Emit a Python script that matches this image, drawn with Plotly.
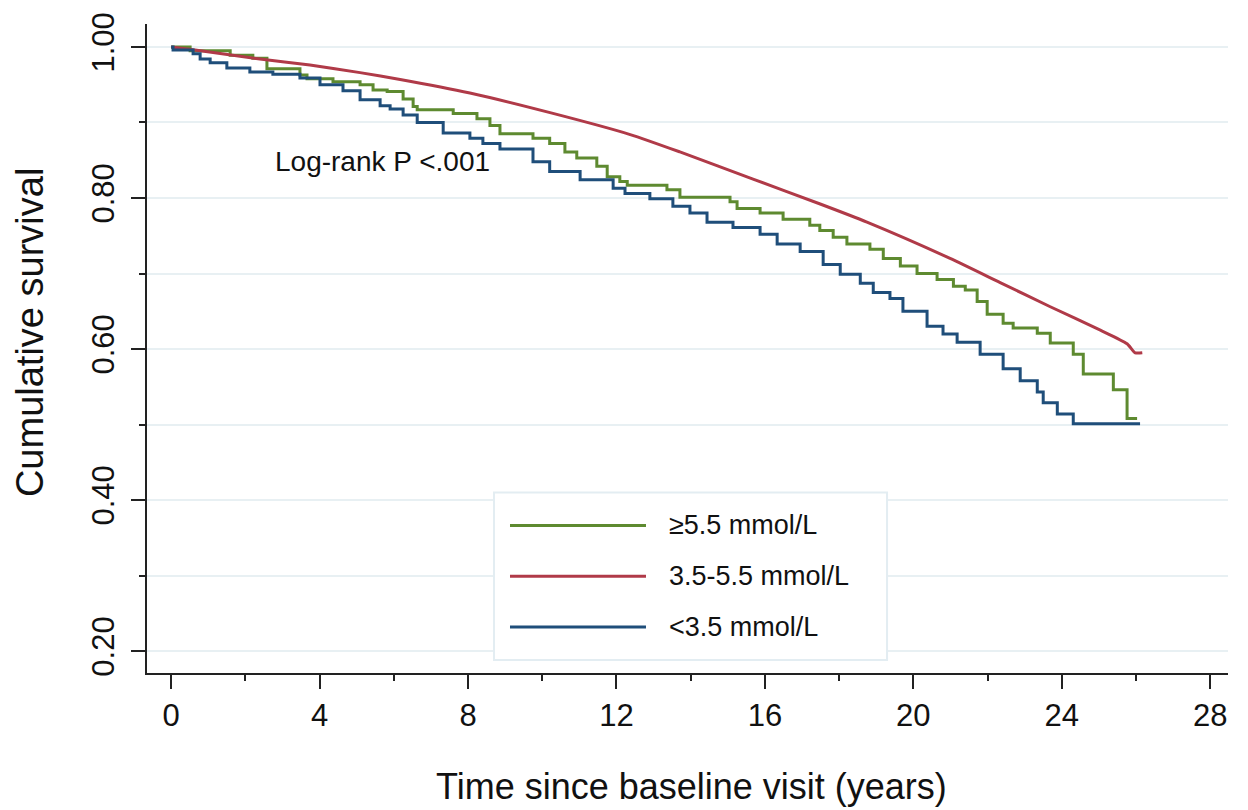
import plotly.graph_objects as go

# ---- data ----
green_t = [0, 0.51, 1.59, 2.2, 2.58, 3.47, 3.66, 4.36, 5.09, 5.44, 5.82, 6.25, 6.52, 6.63, 7.6, 8.24,
           8.59, 8.86, 9.75, 10.2, 10.61, 10.93, 11.47, 11.75, 12.09, 12.29, 13.36, 13.71, 15.06, 15.25,
           15.87, 16.49, 17.21, 17.48, 17.84, 18.21, 18.83, 19.19, 19.65, 20.1, 20.64, 21.08, 21.4,
           21.72, 21.99, 22.42, 22.69, 23.34, 23.69, 24.31, 24.58, 25.39, 25.76, 26.03]
green_s = [1.000, 0.995, 0.989, 0.985, 0.971, 0.963, 0.958, 0.954, 0.950, 0.943, 0.941, 0.931, 0.921,
           0.917, 0.912, 0.905, 0.896, 0.885, 0.879, 0.872, 0.861, 0.853, 0.842, 0.828, 0.822, 0.817,
           0.811, 0.801, 0.795, 0.786, 0.780, 0.772, 0.764, 0.757, 0.748, 0.739, 0.732, 0.720, 0.710,
           0.700, 0.692, 0.683, 0.678, 0.663, 0.646, 0.634, 0.628, 0.621, 0.608, 0.593, 0.567, 0.546,
           0.508, 0.508]

red_t = [0, 0.5, 2.39, 3.74, 5.09, 6.17, 8.05, 10.21, 12.37, 13.71, 15.68, 17.49, 18.75, 20.99,
         22.34, 23.69, 25.04, 25.76, 25.98, 26.17]
red_s = [1.000, 0.997, 0.984, 0.976, 0.966, 0.957, 0.939, 0.913, 0.884, 0.861, 0.825, 0.792, 0.768,
         0.720, 0.688, 0.656, 0.625, 0.607, 0.595, 0.595]

blue_t = [0, 0.05, 0.59, 0.78, 1.05, 1.5, 2.12, 2.74, 3.47, 4.01, 4.63, 5.09, 5.63, 5.9, 6.25, 6.63,
          7.33, 8.05, 8.4, 8.86, 9.75, 10.2, 11.02, 11.91, 12.23, 12.9, 13.52, 13.98, 14.44, 15.14,
          15.87, 16.33, 16.95, 17.57, 18.03, 18.57, 18.92, 19.37, 19.72, 20.37, 20.8, 21.18, 21.8,
          22.42, 22.88, 23.34, 23.5, 23.88, 24.31, 26.11]
blue_s = [1.000, 0.996, 0.991, 0.984, 0.979, 0.972, 0.967, 0.964, 0.959, 0.950, 0.942, 0.930, 0.922,
          0.918, 0.910, 0.900, 0.886, 0.879, 0.872, 0.865, 0.848, 0.835, 0.824, 0.813, 0.806, 0.799,
          0.789, 0.780, 0.768, 0.761, 0.752, 0.739, 0.729, 0.712, 0.699, 0.687, 0.675, 0.667, 0.650,
          0.630, 0.620, 0.609, 0.593, 0.574, 0.558, 0.543, 0.529, 0.514, 0.501, 0.501]

series_names = ["≥5.5 mmol/L", "3.5-5.5 mmol/L", "<3.5 mmol/L"]
series_colors = ["#5e8a30", "#b03a48", "#1f4e7a"]

x_ticks = [0, 4, 8, 12, 16, 20, 24, 28]
y_ticks = [0.20, 0.40, 0.60, 0.80, 1.00]
y_tick_text = ["0.20", "0.40", "0.60", "0.80", "1.00"]
annot_text = "Log-rank P <.001"
x_title = "Time since baseline visit (years)"
y_title = "Cumulative survival"

FONT = "Liberation Sans, Arial, sans-serif"

fig = go.Figure()
fig.add_trace(go.Scatter(x=green_t, y=green_s, mode="lines", line=dict(color=series_colors[0], width=3, shape="hv"),
                         name=series_names[0], showlegend=False))
fig.add_trace(go.Scatter(x=red_t, y=red_s, mode="lines", line=dict(color=series_colors[1], width=3, shape="spline", smoothing=0.6),
                         name=series_names[1], showlegend=False))
fig.add_trace(go.Scatter(x=blue_t, y=blue_s, mode="lines", line=dict(color=series_colors[2], width=3, shape="hv"),
                         name=series_names[2], showlegend=False))

# custom legend box (paper coordinates)
shapes = [dict(type="rect", xref="paper", yref="paper", x0=0.321, x1=0.6846, y0=0.020, y1=0.278,
               line=dict(color="#e3edf2", width=2), fillcolor="white", layer="above")]
annotations = []
rows_y = [0.2273, 0.149, 0.0707]
for nm, col, yy in zip(series_names, series_colors, rows_y):
    shapes.append(dict(type="line", xref="paper", yref="paper", x0=0.3358, x1=0.4616, y0=yy, y1=yy,
                       line=dict(color=col, width=3), layer="above"))
    annotations.append(dict(xref="paper", yref="paper", x=0.481, y=yy, text=nm, showarrow=False,
                            xanchor="left", yanchor="middle", font=dict(family=FONT, size=27, color="#111")))

annotations.append(dict(xref="x", yref="y", x=2.74, y=0.848, text=annot_text, showarrow=False,
                        xanchor="left", yanchor="middle", font=dict(family=FONT, size=28, color="#111")))
annotations.append(dict(xref="paper", yref="paper", x=0.504, y=-0.175, text=x_title, showarrow=False,
                        xanchor="center", yanchor="middle", font=dict(family=FONT, size=36, color="#111")))
annotations.append(dict(xref="paper", yref="paper", x=-0.1082, y=0.5238, text=y_title, showarrow=False,
                        textangle=-90, xanchor="center", yanchor="middle",
                        font=dict(family=FONT, size=38, color="#111")))

fig.update_layout(
    width=1248, height=810,
    margin=dict(l=147, r=20, t=22, b=137),
    paper_bgcolor="white", plot_bgcolor="white",
    font=dict(family=FONT, color="#111"),
    shapes=shapes, annotations=annotations,
    xaxis=dict(range=[-0.652, 28.48], tickvals=x_ticks, ticks="outside", ticklen=14, tickwidth=1.5,
               tickcolor="#222", showline=True, linecolor="#222", linewidth=2, showgrid=False,
               zeroline=False, tickfont=dict(family=FONT, size=31, color="#111"),
               ticklabelstandoff=0,
               minor=dict(dtick=2, tick0=0, ticks="outside", ticklen=6, tickwidth=1.5, tickcolor="#222",
                          showgrid=False)),
    yaxis=dict(range=[0.171, 1.0304], tickvals=y_ticks, ticktext=y_tick_text, ticks="outside", ticklen=14,
               tickwidth=1.5, tickcolor="#222", showline=True, linecolor="#222", linewidth=2,
               showgrid=True, gridcolor="#e8f0f3", gridwidth=2, zeroline=False, tickangle=-90,
               tickfont=dict(family=FONT, size=31, color="#111"), ticklabelstandoff=5,
               minor=dict(dtick=0.1, tick0=0.2, ticks="outside", ticklen=6, tickwidth=1.5, tickcolor="#222",
                          showgrid=True, gridcolor="#e8f0f3", gridwidth=2)),
)

fig.write_html("out.html", config={"displayModeBar": False},
               post_script="document.body.style.margin='0';document.body.style.overflow='hidden';")
